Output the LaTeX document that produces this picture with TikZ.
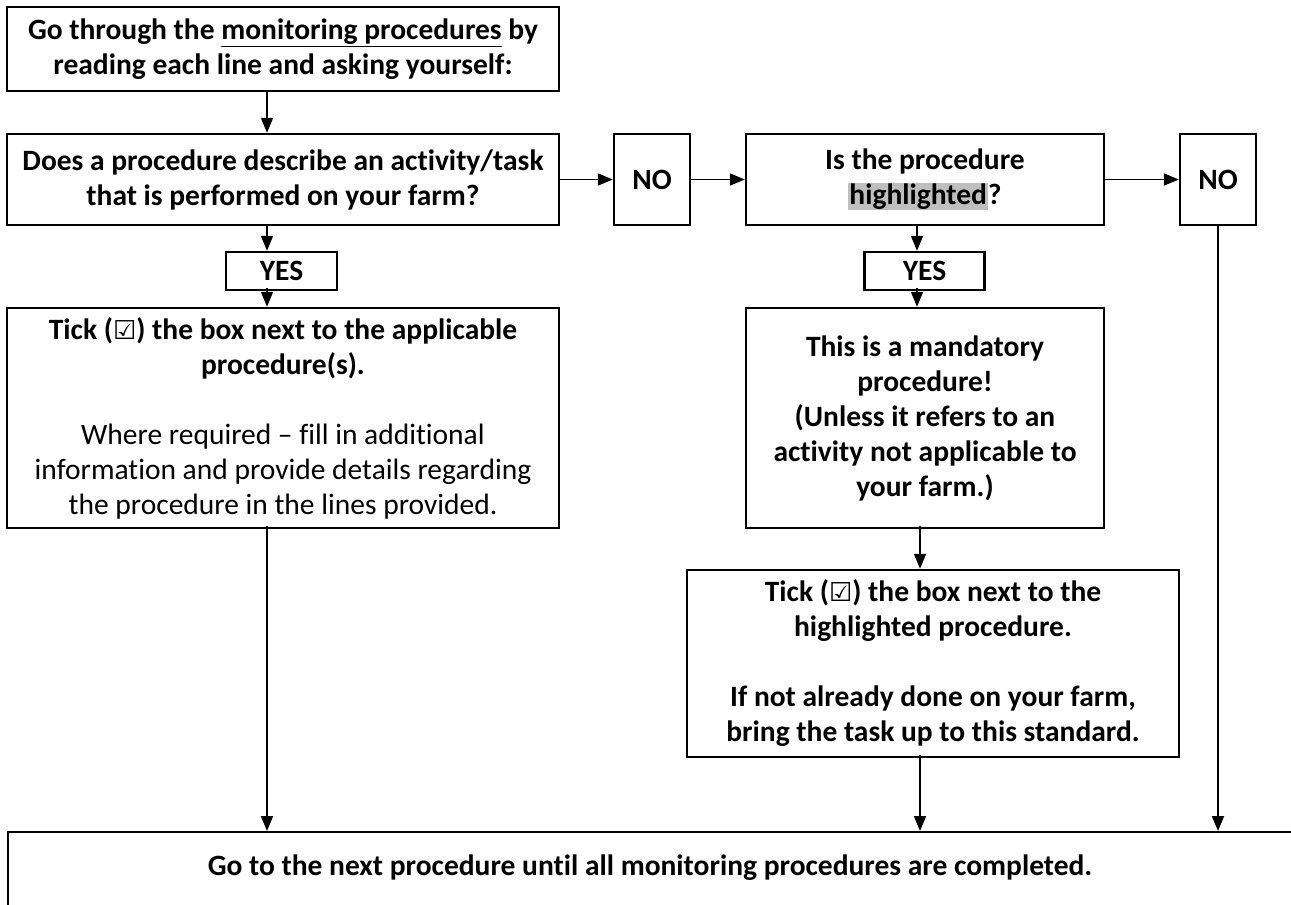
\documentclass[tikz,border=0pt]{standalone}
\usepackage{fontspec}
\setmainfont{Carlito}[Ligatures={TeX,NoCommon}]
\newfontfamily\symfont{DejaVu Sans}
\usetikzlibrary{arrows.meta}
\definecolor{hlgray}{HTML}{BFBFBF}
\newcommand{\tickbox}{{\symfont\bfseries\fontsize{26}{26}\selectfont ☑}}
\newcommand{\hlword}[1]{{\setlength{\fboxsep}{1pt}\colorbox{hlgray}{#1}}}
\tikzset{
  box/.style={draw, line width=2.4pt, align=center, inner sep=0pt,
    font=\fontsize{29.5}{35}\selectfont\bfseries},
  arr/.style={line width=1.8pt, -{Triangle[length=15pt,width=12pt]}},
}
\begin{document}
\begin{tikzpicture}[x=1pt,y=-1pt]
\useasboundingbox (0,0) rectangle (1291,905);
\clip (0,0) rectangle (1291,905);
\fill[white] (0,0) rectangle (1291,905);

\node[box, minimum width=552pt, minimum height=84pt] (b1) at (283,49)
  {Go through the \underline{monitoring procedures} by\\reading each line and asking yourself:};
\node[box, minimum width=552pt, minimum height=91pt] (b2) at (283,179.5)
  {Does a procedure describe an activity/task\\that is performed on your farm?};
\node[box, minimum width=76pt, minimum height=91pt] (no1) at (652,179.5) {NO};
\node[box, minimum width=358pt, minimum height=91pt] (hl) at (925,179.5)
  {Is the procedure\\\hlword{highlighted}?};
\node[box, minimum width=76pt, minimum height=91pt] (no2) at (1218,179.5) {NO};

\node[box, minimum width=111pt, minimum height=38pt] (yes1) at (281.5,271) {YES};
\node[box, minimum width=120pt, minimum height=38pt] (yes2) at (924.5,271) {YES};

\node[box, minimum width=552pt, minimum height=220pt] (tk1) at (283,418)
  {Tick (\tickbox) the box next to the applicable\\procedure(s).\\[35pt]
   {\mdseries Where required – fill in additional}\\
   {\mdseries information and provide details regarding}\\
   {\mdseries the procedure in the lines provided.}};
\node[box, minimum width=358pt, minimum height=220pt] (mand) at (925,418)
  {This is a mandatory\\procedure!\\(Unless it refers to an\\activity not applicable to\\your farm.)};
\node[box, minimum width=492pt, minimum height=187pt] (tk2) at (933,663.5)
  {Tick (\tickbox) the box next to the\\highlighted procedure.\\[35pt]
   If not already done on your farm,\\bring the task up to this standard.};

\node[draw, line width=2.4pt, minimum width=1340pt, minimum height=160pt,
  anchor=north west, inner sep=0pt] (botbox) at (7,831) {};
\node[font=\fontsize{29.5}{35}\selectfont\bfseries] (bottxt) at (650,868)
  {Go to the next procedure until all monitoring procedures are completed.};

\coordinate (xl) at (267,0);
\coordinate (xm) at (917,0);
\coordinate (xn) at (920,0);

\draw[arr] (b1.south -| xl) -- (b2.north -| xl);
\draw[arr] (b2.east) -- (no1.west);
\draw[arr] (no1.east) -- (hl.west);
\draw[arr] (hl.east) -- (no2.west);
\draw[arr] (b2.south -| xl) -- (yes1.north -| xl);
\draw[arr] ([yshift=3pt]yes1.south -| xl) -- (tk1.north -| xl);
\draw[arr] (hl.south -| xm) -- (yes2.north -| xm);
\draw[arr] ([yshift=3pt]yes2.south -| xm) -- (mand.north -| xm);
\draw[arr] ([yshift=3pt]mand.south -| xn) -- (tk2.north -| xn);
\draw[arr] ([yshift=3pt]tk2.south -| xn) -- (botbox.north -| xn);
\draw[arr] ([yshift=3pt]tk1.south -| xl) -- (botbox.north -| xl);
\draw[arr] (no2.south) -- (botbox.north -| no2.south);
\end{tikzpicture}
\end{document}
